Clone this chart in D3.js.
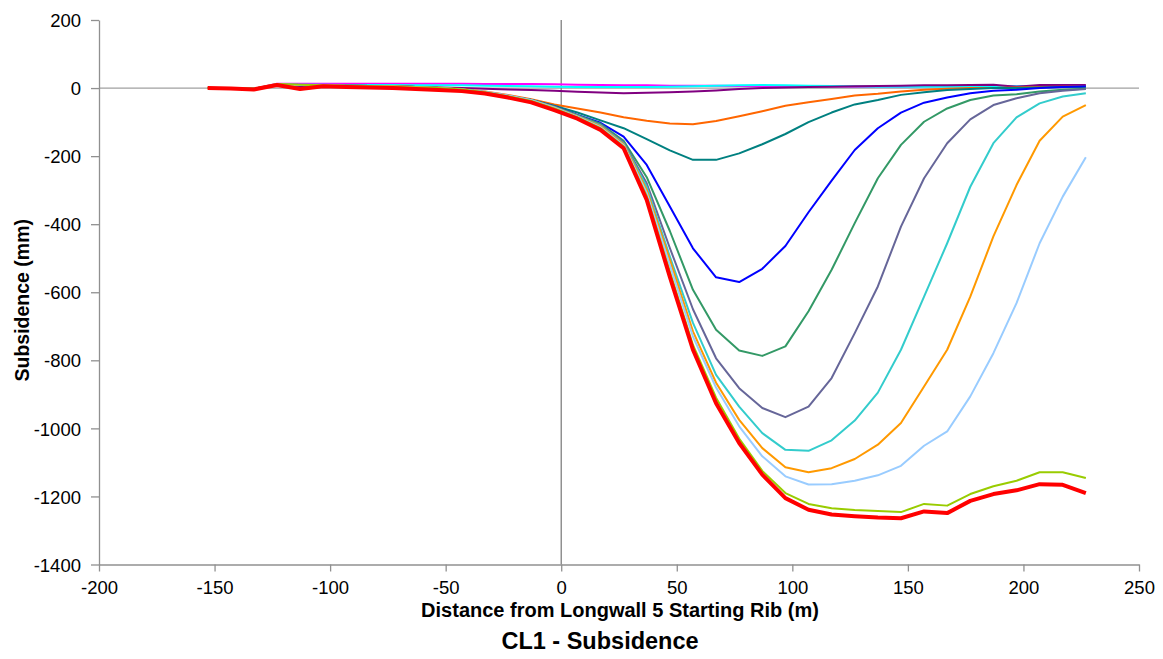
<!DOCTYPE html>
<html><head><meta charset="utf-8">
<script src="https://cdn.jsdelivr.net/npm/d3@7"></script>
<style>body{margin:0;background:#fff}svg{display:block}text{font-family:"Liberation Sans",Arial,sans-serif}</style>
</head><body><svg id="c" width="1163" height="659"></svg>
<script>
const distances = d3.range(39).map(i => -153 + 10 * i);
const xTicks = [-200,-150,-100,-50,0,50,100,150,200,250];
const yTicks = [200,0,-200,-400,-600,-800,-1000,-1200,-1400];

const sMagenta = [0,0,-2,13,13,13,13,13,13,13,13,13,12,12,12,11,10,9,8,8,7,7,7,6,6,5,5,5,4,4,4,5,5,6,6,6,6,6,6];
const sCyan    = [0,0,-2,10,10,10,9,9,9,8,8,8,7,6,5,4,3,3,3,3,4,5,7,8,9,8,7,6,5,4,4,4,4,4,5,5,5,6,6];
const sPurple  = [0,0,-2,8,6,5,5,4,4,3,2,0,-2,-4,-6,-8,-11,-13,-15,-14,-12,-10,-7,-3,0,2,3,4,5,6,7,8,8,9,10,4,9,9,9];
const sOrangeRed = [0,0,-2,10,9,8,7,6,5,3,1,-3,-10,-20,-33,-48,-60,-72,-86,-96,-104,-106,-97,-83,-68,-52,-42,-32,-22,-17,-10,-5,-2,0,0,2,3,4,5];
const sTeal    = [0,0,-2,10,9,8,7,6,5,3,0,-4,-12,-23,-35,-52,-72,-95,-118,-150,-183,-211,-211,-192,-165,-135,-100,-72,-48,-35,-20,-12,-6,-3,0,0,2,3,3];
const sBlue    = [0,0,-2,10,9,8,7,6,5,3,0,-4,-12,-23,-35,-54,-79,-102,-143,-226,-348,-471,-556,-570,-531,-464,-365,-272,-182,-118,-72,-43,-28,-15,-8,-5,0,3,5];
const sGreen   = [0,0,-2,10,9,8,7,6,5,3,0,-4,-12,-23,-35,-55,-80,-105,-155,-262,-420,-593,-710,-771,-787,-759,-656,-534,-397,-265,-167,-99,-60,-35,-22,-18,-10,-5,-2];
const sSlate   = [0,0,-2,10,9,8,7,6,5,3,0,-4,-12,-23,-35,-55,-81,-108,-160,-280,-470,-650,-794,-882,-940,-967,-936,-852,-720,-583,-407,-265,-162,-92,-50,-30,-15,-8,-3];
const sTurq    = [0,0,-2,10,9,8,7,6,5,3,0,-4,-12,-23,-35,-56,-82,-110,-163,-290,-495,-690,-843,-936,-1014,-1063,-1066,-1035,-977,-895,-769,-613,-456,-290,-162,-86,-45,-25,-15];
const sOrange  = [0,0,-2,10,9,8,7,6,5,3,0,-4,-12,-23,-36,-57,-83,-112,-165,-300,-505,-715,-866,-975,-1058,-1114,-1129,-1117,-1090,-1048,-984,-877,-769,-613,-436,-285,-155,-84,-50];
const sLightBlue = [0,0,-2,11,9,8,6,5,4,2,0,-4,-11,-22,-36,-58,-84,-115,-168,-308,-520,-730,-880,-994,-1082,-1141,-1165,-1164,-1154,-1138,-1110,-1051,-1009,-906,-779,-632,-456,-319,-203];
const sYellowGreen = [0,0,-2,12,10,8,6,5,4,2,0,-4,-12,-24,-38,-60,-86,-118,-172,-318,-540,-755,-910,-1030,-1125,-1190,-1222,-1235,-1240,-1243,-1246,-1222,-1227,-1193,-1170,-1154,-1129,-1129,-1146];
const sRed     = [0,-1,-4,9,-3,5,3,2,0,-3,-6,-9,-16,-28,-42,-65,-90,-123,-177,-329,-555,-769,-926,-1043,-1136,-1205,-1239,-1253,-1258,-1262,-1264,-1244,-1249,-1213,-1193,-1182,-1164,-1166,-1190];

const series = [
  {v:sMagenta, c:"#FF00FF", w:2},
  {v:sCyan, c:"#00FFFF", w:2},
  {v:sPurple, c:"#800080", w:2},
  {v:sOrangeRed, c:"#FF6600", w:2},
  {v:sTeal, c:"#008080", w:2},
  {v:sBlue, c:"#0000FF", w:2},
  {v:sGreen, c:"#339966", w:2},
  {v:sSlate, c:"#666699", w:2},
  {v:sTurq, c:"#33CCCC", w:2},
  {v:sOrange, c:"#FF9900", w:2},
  {v:sLightBlue, c:"#99CCFF", w:2},
  {v:sYellowGreen, c:"#99CC00", w:2},
  {v:sRed, c:"#FF0000", w:4}
];

const svg = d3.select("#c");
const L = 99, R = 1139, T = 20, B = 564.5;
const x = d3.scaleLinear().domain([-200,250]).range([L,R]);
const y = d3.scaleLinear().domain([-1400,200]).range([B,T]);
const fmt = d => String(d);

svg.append("line").attr("x1",L).attr("x2",R).attr("y1",y(0)).attr("y2",y(0)).attr("stroke","#a0a0a0").attr("stroke-width",1.3);
svg.append("line").attr("x1",x(0)).attr("x2",x(0)).attr("y1",T).attr("y2",B).attr("stroke","#808080").attr("stroke-width",1.3);

const gx = svg.append("g").attr("transform",`translate(0,${B})`)
  .call(d3.axisBottom(x).tickValues(xTicks).tickSize(7).tickSizeOuter(0).tickFormat(fmt));
const gy = svg.append("g").attr("transform",`translate(${L},0)`)
  .call(d3.axisLeft(y).tickValues(yTicks).tickSize(8).tickSizeOuter(0).tickFormat(fmt));
[gx,gy].forEach(g=>{
  g.select(".domain").attr("stroke","#909090").attr("stroke-width",1.3);
  g.selectAll(".tick line").attr("stroke","#909090").attr("stroke-width",1.3);
  g.selectAll(".tick text").attr("fill","#000").style("font-size","18.5px").style("font-family","'Liberation Sans',Arial,sans-serif");
});
gx.selectAll(".tick text").attr("dy",null).attr("y",29.5);
gy.selectAll(".tick text").attr("x",-18).attr("dy","0.36em");

const line = d3.line().x((d,i)=>x(distances[i])).y(d=>y(d));
series.forEach(s=>{
  svg.append("path").datum(s.v).attr("d",line).attr("fill","none")
    .attr("stroke",s.c).attr("stroke-width",s.w).attr("stroke-linejoin","round");
});

svg.append("text").attr("x",620).attr("y",617).attr("text-anchor","middle")
  .style("font-size","20px").style("font-weight","bold").text("Distance from Longwall 5 Starting Rib (m)");
svg.append("text").attr("x",600).attr("y",649).attr("text-anchor","middle")
  .style("font-size","23.5px").style("font-weight","bold").text("CL1 - Subsidence");
svg.append("text").attr("transform",`translate(29,${(T+B)/2 + 8}) rotate(-90)`).attr("text-anchor","middle")
  .style("font-size","19.5px").style("font-weight","bold").text("Subsidence (mm)");
</script></body></html>
